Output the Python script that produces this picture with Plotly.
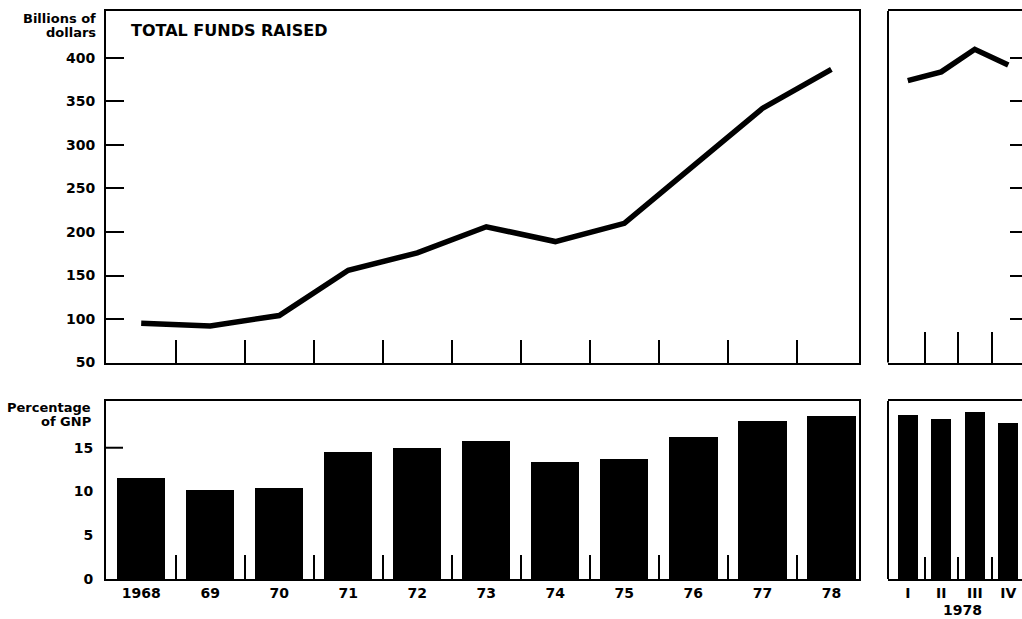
import plotly.graph_objects as go

# ---- data ----
years = ["1968", "69", "70", "71", "72", "73", "74", "75", "76", "77", "78"]
total_funds = [95, 92, 104, 156, 176, 206, 189, 210, 276, 342, 387]
pct_gnp = [11.5, 10.2, 10.4, 14.5, 15.0, 15.8, 13.4, 13.7, 16.2, 18.1, 18.6]

quarters = ["I", "II", "III", "IV"]
q_funds = [374, 384, 410, 392]
q_pct = [18.7, 18.3, 19.1, 17.8]

funds_ticks = [50, 100, 150, 200, 250, 300, 350, 400]
pct_ticks = [0, 5, 10, 15]

W, H = 1022, 619
FONT = "DejaVu Sans"


def px(x):
    return x / W


def py(y):
    return 1 - y / H


tickfont = dict(family=FONT, size=14, color="black", weight="bold")

q_pos = list(range(len(quarters)))
q_bounds = [i + 0.5 for i in q_pos[:-1]]

fig = go.Figure()
fig.add_trace(go.Scatter(x=years, y=total_funds, mode="lines",
                         line=dict(color="black", width=5.5),
                         xaxis="x", yaxis="y", showlegend=False))
fig.add_trace(go.Scatter(x=q_pos, y=q_funds, mode="lines",
                         line=dict(color="black", width=5.5),
                         xaxis="x2", yaxis="y2", showlegend=False))
fig.add_trace(go.Bar(x=years, y=pct_gnp, width=0.7, marker=dict(color="black", line=dict(width=0)),
                     xaxis="x3", yaxis="y3", showlegend=False))
fig.add_trace(go.Bar(x=q_pos, y=q_pct, width=0.6, marker=dict(color="black", line=dict(width=0)),
                     xaxis="x4", yaxis="y4", showlegend=False))

top_dom = [py(362.5), py(11)]
bot_dom = [py(579), py(401)]
left_dom = [px(106), px(859)]
right_dom = [px(888), 1.0]

axis_common = dict(showline=True, linecolor="black", linewidth=2, showgrid=False,
                   zeroline=False, fixedrange=True, automargin=False)

fig.update_layout(
    template="none",
    width=W, height=H,
    margin=dict(l=0, r=0, t=0, b=0, pad=0, autoexpand=False),
    paper_bgcolor="white", plot_bgcolor="white",
    font=dict(family=FONT, color="black"),
    bargap=0,
    # top-left
    xaxis=dict(domain=left_dom, anchor="y", type="category", categoryorder="array",
               categoryarray=years, range=[-0.51, 10.4], tickson="boundaries",
               ticks="inside", ticklen=23, tickwidth=2, tickcolor="black",
               showticklabels=False, mirror=True, **axis_common),
    yaxis=dict(domain=top_dom, anchor="x", range=[50, 454], tickvals=funds_ticks,
               ticks="inside", ticklen=18, tickwidth=2, tickcolor="black",
               tickfont=tickfont, ticklabelstandoff=6, mirror=True, **axis_common),
    # top-right
    xaxis2=dict(domain=right_dom, anchor="y2", type="linear", range=[-0.59, 3.41],
                tickvals=q_pos, ticks="", showticklabels=False,
                minor=dict(tickmode="array", tickvals=q_bounds, ticks="inside", ticklen=31,
                           tickwidth=2, tickcolor="black", showgrid=False),
                mirror=True, **axis_common),
    yaxis2=dict(domain=top_dom, anchor="x2", side="right", range=[50, 454],
                tickvals=funds_ticks[1:], ticks="inside", ticklen=12, tickwidth=2,
                tickcolor="black", showticklabels=False, showline=False,
                showgrid=False, zeroline=False, fixedrange=True, automargin=False),
    # bottom-left
    xaxis3=dict(domain=left_dom, anchor="y3", type="category", categoryorder="array",
                categoryarray=years, range=[-0.51, 10.4], tickson="boundaries",
                ticks="inside", ticklen=24, tickwidth=2, tickcolor="black",
                tickfont=tickfont, ticklabelstandoff=0, mirror=True, **axis_common),
    yaxis3=dict(domain=bot_dom, anchor="x3", range=[0, 20.34], tickvals=pct_ticks,
                ticks="", tickfont=tickfont, ticklabelstandoff=8, mirror=True,
                **axis_common),
    # bottom-right
    xaxis4=dict(domain=right_dom, anchor="y4", type="linear", range=[-0.59, 3.41],
                tickvals=q_pos, ticktext=quarters, ticks="",
                minor=dict(tickmode="array", tickvals=q_bounds, ticks="inside", ticklen=22,
                           tickwidth=2, tickcolor="black", showgrid=False),
                tickfont=tickfont, ticklabelstandoff=0, mirror=True, **axis_common),
    yaxis4=dict(domain=bot_dom, anchor="x4", range=[0, 20.34], showticklabels=False,
                ticks="", showline=False, showgrid=False, zeroline=False, fixedrange=True,
                automargin=False),
)

# left borders of the right-hand panels and the lone "15" tick
fig.add_shape(type="line", xref="x2 domain", yref="y2 domain", x0=0, x1=0, y0=0, y1=1,
              line=dict(color="black", width=2))
fig.add_shape(type="line", xref="x4 domain", yref="y4 domain", x0=0, x1=0, y0=0, y1=1,
              line=dict(color="black", width=2))
fig.add_shape(type="line", xref="x3 domain", yref="y3", x0=0, x1=17 / 753, y0=15, y1=15,
              line=dict(color="black", width=2))


def label(text, x, y, size=13, xanchor="right"):
    fig.add_annotation(text=text, x=px(x), y=py(y), xref="paper", yref="paper",
                       xanchor=xanchor, yanchor="middle", showarrow=False,
                       font=dict(family=FONT, size=size, color="black", weight="bold"))


label("Billions of", 98, 18)
label("dollars", 98, 32)
label("TOTAL FUNDS RAISED", 129, 30, size=16, xanchor="left")
label("Percentage", 93, 407)
label("of GNP", 93, 421)
label("1978", 962, 610, size=14, xanchor="center")

post = ("document.documentElement.style.margin='0';document.body.style.margin='0';"
        "document.documentElement.style.overflow='hidden';document.body.style.overflow='hidden';")

fig.write_html("out.html", config={"displayModeBar": False}, post_script=post)
